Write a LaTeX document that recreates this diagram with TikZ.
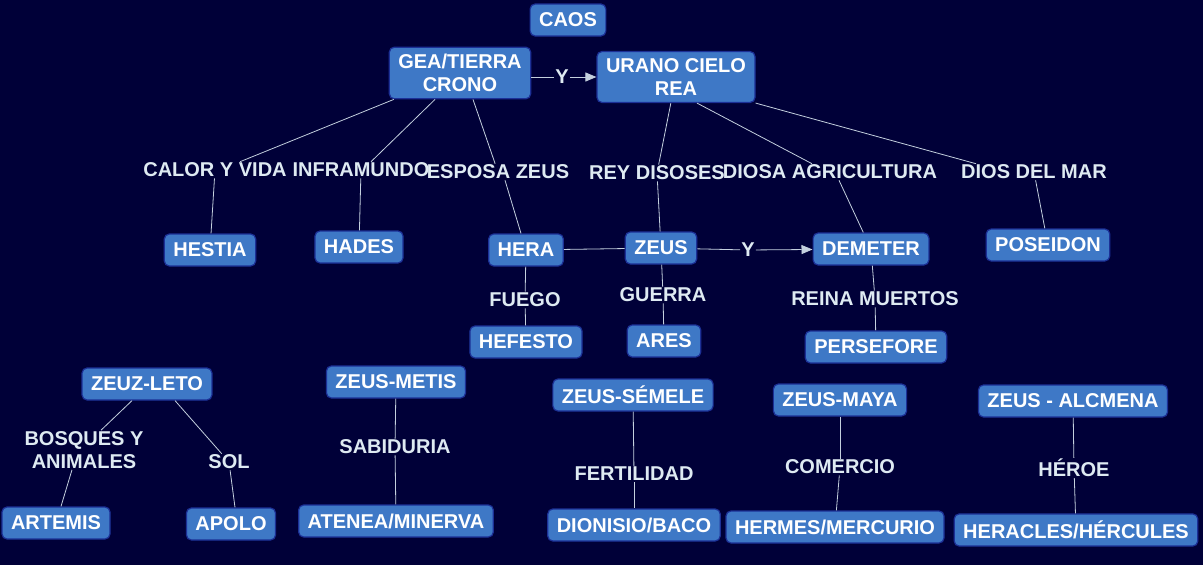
\documentclass[tikz,border=0pt]{standalone}
\usepackage{fontspec}
\setmainfont{Liberation Sans}
\usetikzlibrary{arrows.meta,positioning}
\definecolor{mBack}{RGB}{0,0,56}
\definecolor{mBox}{RGB}{62,120,198}
\definecolor{mEdge}{RGB}{28,48,150}
\definecolor{mText}{RGB}{222,234,242}
\definecolor{mLine}{RGB}{196,208,222}

\begin{document}
\begin{tikzpicture}[
			x=1pt,y=-1pt,
			n/.style={
				rounded corners=5pt,
				fill=mBox,
				draw=mEdge,
				line width=1.2pt,
				text=white,
				font=\fontsize{20}{23}\selectfont\bfseries,
				align=center,
				inner xsep=9pt,
				inner ysep=7pt,
				minimum height=32pt
			},
			lab/.style={
				text=mText,
				font=\fontsize{20}{23}\selectfont\bfseries,
				align=center,
				inner sep=1pt
			},
			ln/.style={draw=mLine,line width=0.8pt},
			ar/.style={ln,-{Triangle[length=11pt,width=9pt]}}
			]
			\fill[mBack] (0,0) rectangle (1203,565);
			\useasboundingbox (0,0) rectangle (1203,565);

			% first generation
			\node[n](caos) at (568,20) {CAOS};
			\node[n](gea) at (460,73) {GEA/TIERRA\\CRONO};
			\node[n](urano) at (676,77) {URANO CIELO\\REA};
			\node[lab](y1) at (562,77) {Y};

			% labels under the parents
			\node[lab](calor) at (215,170) {CALOR Y VIDA};
			\node[lab](infra) at (361,170) {INFRAMUNDO};
			\node[lab](esposa) at (498,172) {ESPOSA ZEUS};
			\node[lab](rey) at (657,173) {REY DISOSES};
			\node[lab](diosa) at (830,172) {DIOSA AGRICULTURA};
			\node[lab](mar) at (1034,172) {DIOS DEL MAR};

			% children
			\node[n](hestia) at (210,250) {HESTIA};
			\node[n](hades) at (359,247) {HADES};
			\node[n](hera) at (526,250) {HERA};
			\node[n](zeus) at (661,248) {ZEUS};
			\node[lab](y2) at (748,250) {Y};
			\node[n](demeter) at (871,249) {DEMETER};
			\node[n](poseidon) at (1048,245) {POSEIDON};

			\node[lab](fuego) at (525,300) {FUEGO};
			\node[lab](guerra) at (663,295) {GUERRA};
			\node[lab](reina) at (875,299) {REINA MUERTOS};
			\node[n](hefesto) at (526,342) {HEFESTO};
			\node[n](ares) at (664,341) {ARES};
			\node[n](persefore) at (876,347) {PERSEFORE};

			% couples of zeus
			\node[n](leto) at (147,384) {ZEUZ-LETO};
			\node[n](metis) at (396,382) {ZEUS-METIS};
			\node[n](semele) at (633,395) {ZEUS-SÉMELE};
			\node[n](maya) at (840,400) {ZEUS-MAYA};
			\node[n](alcmena) at (1073,401) {ZEUS - ALCMENA};

			\node[lab](bosques) at (84,450) {BOSQUES Y\\ANIMALES};
			\node[lab](sol) at (229,462) {SOL};
			\node[lab](sabiduria) at (395,447) {SABIDURIA};
			\node[lab](fertilidad) at (634,474) {FERTILIDAD};
			\node[lab](comercio) at (840,467) {COMERCIO};
			\node[lab](heroe) at (1074,468) {HÉROE};

			\node[n](artemis) at (56,523) {ARTEMIS};
			\node[n](apolo) at (231,524) {APOLO};
			\node[n](atenea) at (396,521) {ATENEA/MINERVA};
			\node[n](dionisio) at (634,525) {DIONISIO/BACO};
			\node[n](hermes) at (835,527) {HERMES/MERCURIO};
			\node[n](heracles) at (1076,530) {HERACLES/HÉRCULES};

			% connectors
			\draw[ln] (y1) -- (y1 -| gea.east);
			\draw[ar] (y1) -- (urano);
			\draw[ln] ([xshift=5pt]gea.south west) -- ([xshift=25pt]calor.north);
			\draw[ln] (calor) -- (hestia);
			\draw[ln] ([xshift=-25pt]gea.south) -- ([xshift=10pt]infra.north);
			\draw[ln] (infra) -- (hades);
			\draw[ln] ([xshift=13pt]gea.south) -- (esposa);
			\draw[ln] ([xshift=7pt]esposa.south) -- (hera);
			\draw[ln] (urano) -- (rey);
			\draw[ln] (rey) -- (zeus);
			\draw[ln] ([xshift=21pt]urano.south) -- ([xshift=-18pt]diosa.north);
			\draw[ln] ([xshift=9pt]diosa.south) -- (demeter);
			\draw[ln] (urano.south east) -- ([xshift=16pt]mar.north west);
			\draw[ln] (mar) -- (poseidon);
			\draw[ln] (hera) -- (zeus);
			\draw[ln] (zeus) -- (y2);
			\draw[ar] (y2) -- (demeter);
			\draw[ln] (hera) -- (fuego);
			\draw[ln] (fuego) -- (hefesto);
			\draw[ln] (zeus) -- (guerra);
			\draw[ln] (guerra) -- (ares);
			\draw[ln] (demeter) -- (reina);
			\draw[ln] (reina) -- (persefore);
			\draw[ln] ([xshift=-15pt]leto.south) -- ([xshift=17pt]bosques.north);
			\draw[ln] ([xshift=-12pt]bosques.south) -- (artemis);
			\draw[ln] ([xshift=28pt]leto.south) -- (sol);
			\draw[ln] (sol) -- ([xshift=4pt]apolo.north);
			\draw[ln] (metis) -- (sabiduria);
			\draw[ln] (sabiduria) -- (atenea);
			\draw[ln] (semele) -- (fertilidad);
			\draw[ln] (fertilidad) -- (dionisio);
			\draw[ln] (maya) -- (comercio);
			\draw[ln] (comercio) -- (hermes);
			\draw[ln] (alcmena) -- (heroe);
			\draw[ln] (heroe) -- (heracles);
		\end{tikzpicture}
\end{document}
